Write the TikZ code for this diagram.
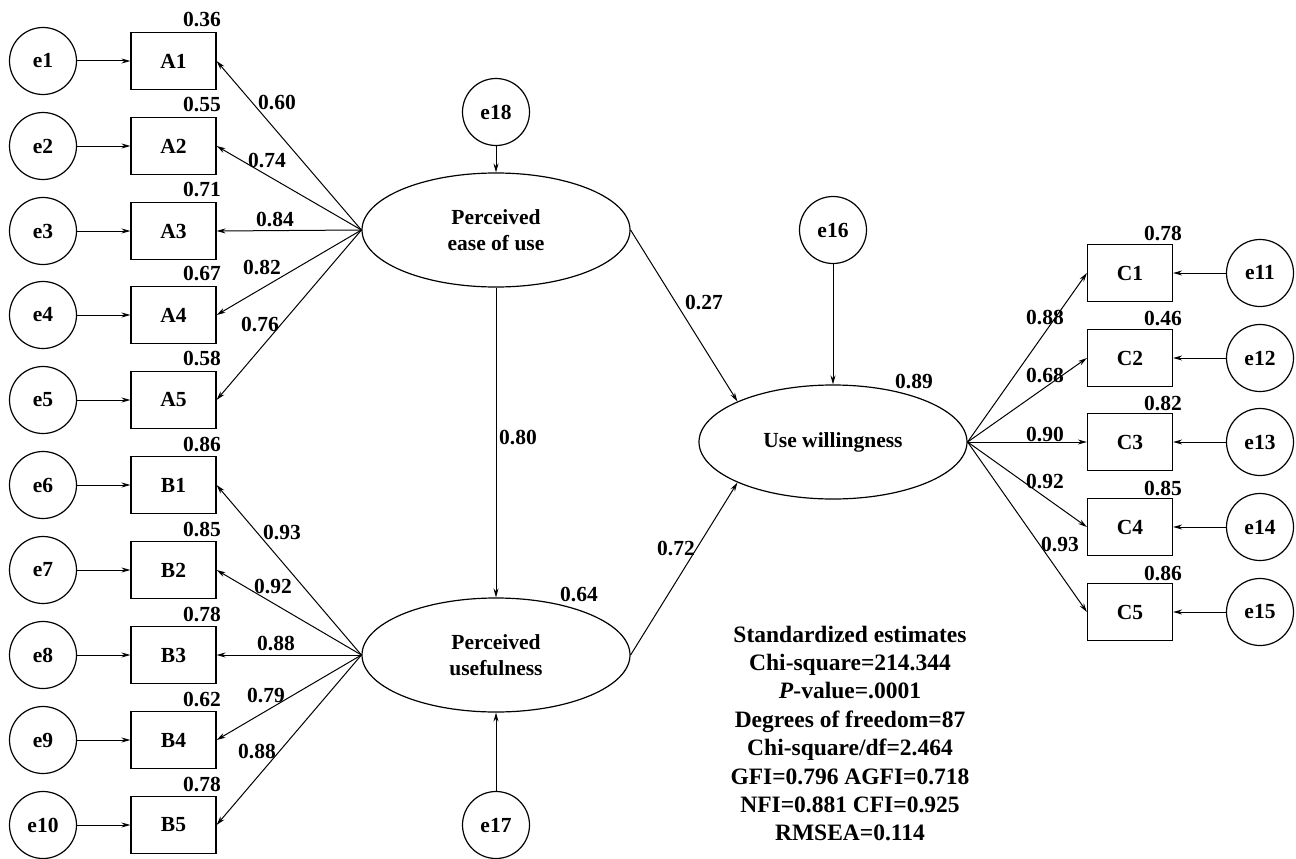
\documentclass[tikz,border=0pt]{standalone}
\usepackage{fontspec}
\setmainfont{Liberation Serif}
\usetikzlibrary{shapes.geometric,arrows.meta}
\begin{document}
\begin{tikzpicture}[x=1pt,y=-1pt,
  every node/.style={font=\fontsize{21.5}{26}\selectfont\bfseries},
  obs/.style={draw, line width=1.2pt, minimum width=85pt, minimum height=57pt, inner sep=0pt},
  err/.style={draw, circle, line width=1.2pt, minimum size=67pt, inner sep=0pt},
  lat/.style={draw, ellipse, line width=1.2pt, minimum width=268pt, minimum height=114pt, inner sep=0pt, align=center, font=\fontsize{21.5}{26}\selectfont\bfseries},
  arr/.style={-{Stealth[length=9pt,width=5pt]}, line width=1pt},
  lbl/.style={inner sep=0pt},
  stats/.style={inner sep=0pt, align=center, font=\fontsize{23.5}{28.4}\selectfont\bfseries}
]
\useasboundingbox (0,0) rectangle (1296,859);

% left indicators A
\foreach \i/\y/\v in {1/61/0.36,2/146/0.55,3/231/0.71,4/315/0.67,5/400/0.58} {
  \node[err] (e\i) at (43,\y) {e\i};
  \node[obs] (A\i) at (173.5,\y) {A\i};
  \node[lbl] (rA\i) at (202,\y-41) {\v};
}
% left indicators B
\foreach \i/\j/\y/\v in {1/6/485/0.86,2/7/570/0.85,3/8/655/0.78,4/9/740/0.62,5/10/825/0.78} {
  \node[err] (e\j) at (43,\y) {e\j};
  \node[obs] (B\i) at (173.5,\y) {B\i};
  \node[lbl] (rB\i) at (202,\y-41) {\v};
}
% right indicators C
\foreach \i/\j/\y/\v in {1/11/273/0.78,2/12/358/0.46,3/13/442/0.82,4/14/527/0.85,5/15/612/0.86} {
  \node[obs] (C\i) at (1130,\y) {C\i};
  \node[err] (e\j) at (1260,\y) {e\j};
  \node[lbl] (rC\i) at (1163,\y-39) {\v};
}

% latent variables
\node[lat] (peou) at (496,230) {Perceived\\ease of use};
\node[lat] (pu) at (496,655) {Perceived\\usefulness};
\node[lat] (uw) at (833,442) {Use willingness};
\node[err] (e18) at (496,112) {e18};
\node[err] (e17) at (496,825) {e17};
\node[err] (e16) at (833,230) {e16};

% arrows
\foreach \i in {1,...,5} {
  \draw[arr] (e\i) -- (A\i);
  \draw[arr] (peou.west) -- (A\i.east);
  \draw[arr] (pu.west) -- (B\i.east);
  \draw[arr] (uw.east) -- (C\i.west);
}
\foreach \i/\j in {1/6,2/7,3/8,4/9,5/10} { \draw[arr] (e\j) -- (B\i); }
\foreach \i/\j in {1/11,2/12,3/13,4/14,5/15} { \draw[arr] (e\j) -- (C\i); }
\draw[arr] (e18) -- (peou);
\draw[arr] (e17) -- (pu);
\draw[arr] (e16) -- (uw);
\draw[arr] (peou) -- (pu);
\draw[arr] (peou.east) -- (uw.157);
\draw[arr] (pu.east) -- (uw.203);

% path labels
\node[lbl] (lA1) at (277,103) {0.60};
\node[lbl] (lA2) at (267,161) {0.74};
\node[lbl] (lA3) at (275,220) {0.84};
\node[lbl] (lA4) at (262,268) {0.82};
\node[lbl] (lA5) at (260,324) {0.76};
\node[lbl] (lB1) at (282,532) {0.93};
\node[lbl] (lB2) at (273,586) {0.92};
\node[lbl] (lB3) at (276,643) {0.88};
\node[lbl] (lB4) at (266,695) {0.79};
\node[lbl] (lB5) at (257,751) {0.88};
\node[lbl] (lC1) at (1045,317) {0.88};
\node[lbl] (lC2) at (1045,375) {0.68};
\node[lbl] (lC3) at (1045,434) {0.90};
\node[lbl] (lC4) at (1045,481) {0.92};
\node[lbl] (lC5) at (1060,544) {0.93};
\node[lbl] (l27) at (704,303) {0.27};
\node[lbl] (l72) at (676,548) {0.72};
\node[lbl] (l80) at (518,437) {0.80};
\node[lbl] (r64) at (579,594) {0.64};
\node[lbl] (r89) at (914,381) {0.89};

% fit statistics
\node[stats] (fit) at (850,733.5) {Standardized estimates\\Chi-square=214.344\\\textit{P}-value=.0001\\Degrees of freedom=87\\Chi-square/df=2.464\\GFI=0.796 AGFI=0.718\\NFI=0.881 CFI=0.925\\RMSEA=0.114};
\end{tikzpicture}
\end{document}
